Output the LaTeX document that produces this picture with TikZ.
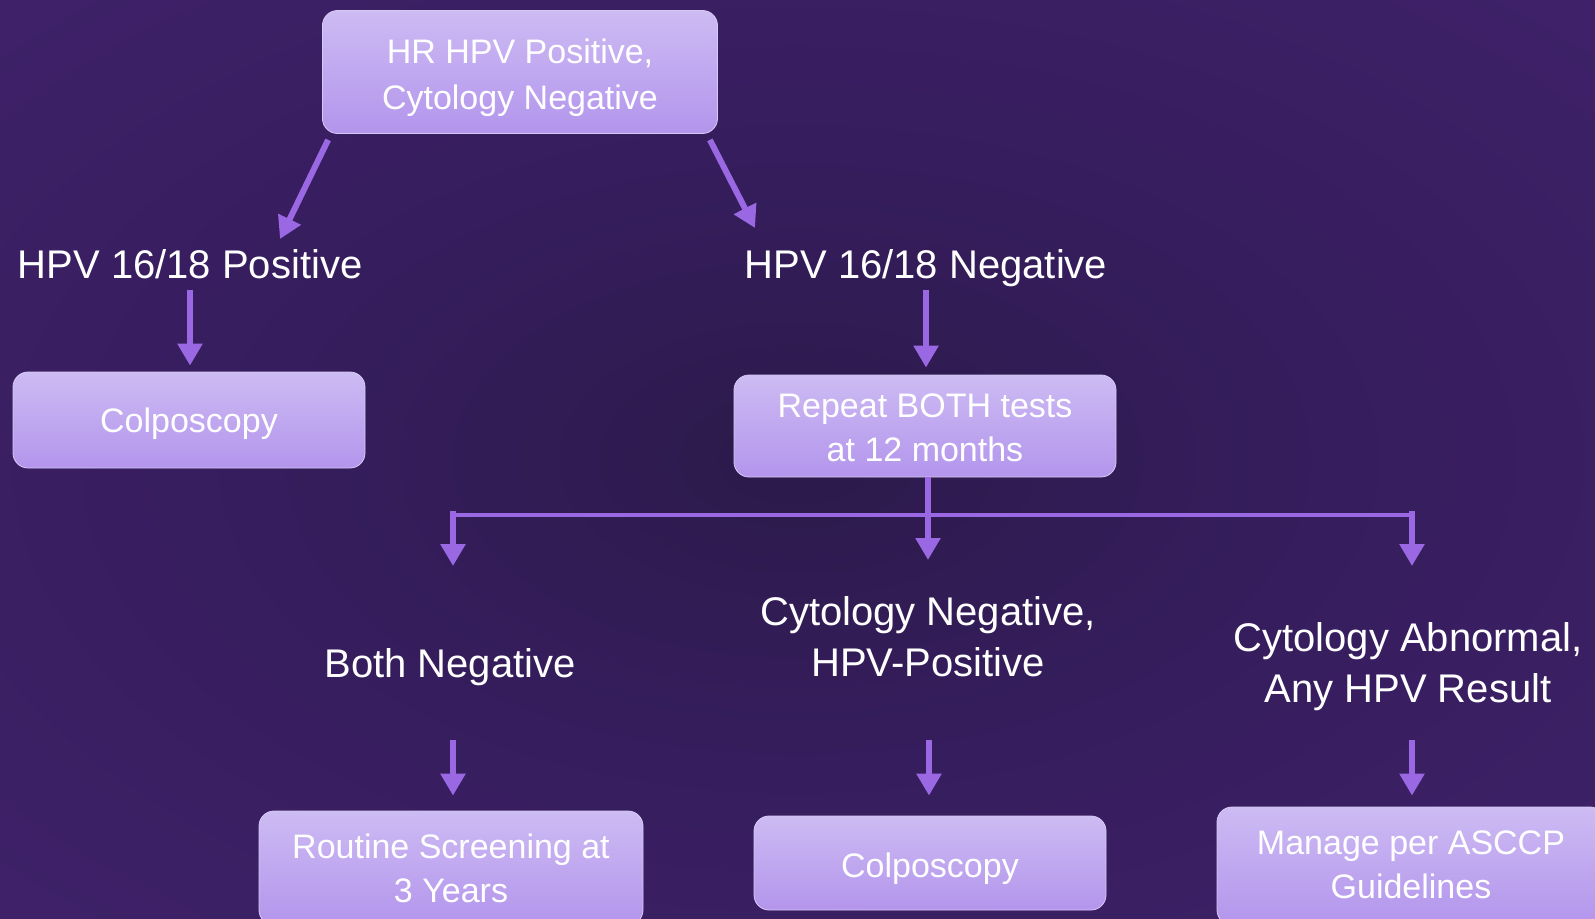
\documentclass[tikz,border=0pt]{standalone}
\usepackage{fontspec}
\setmainfont{Liberation Sans}
\usetikzlibrary{arrows.meta,calc}
\definecolor{bgin}{HTML}{2C1A4A}
\definecolor{bgmid}{HTML}{351D5C}
\definecolor{bgout}{HTML}{43236F}
\definecolor{boxtop}{HTML}{CDBBF3}
\definecolor{boxbot}{HTML}{B395EC}
\definecolor{arrcol}{HTML}{9A68E2}
\pgfdeclareradialshading{bgshade}{\pgfpoint{0bp}{0bp}}{color(0bp)=(bgin); color(15bp)=(bgmid); color(45bp)=(bgout); color(75bp)=(bgout)}
\tikzset{
  box/.style={rounded corners=15pt, top color=boxtop, bottom color=boxbot, draw=boxtop!80!white, line width=0.8pt, inner sep=0pt},
  boxtxt/.style={text=white, align=center, font=\fontsize{34}{44}\selectfont, inner sep=0pt},
  head/.style={text=white, align=center, font=\fontsize{40}{51}\selectfont, inner sep=0pt},
  arr/.style={draw=arrcol, line width=6pt, -{Triangle[width=24pt,length=22pt]}},
  thinln/.style={draw=arrcol, line width=4pt}
}
\begin{document}
\begin{tikzpicture}[x=1pt,y=-1pt]
\useasboundingbox (0,0) rectangle (1595,918);
\shade[shading=bgshade] (0,0) rectangle (1595,918);
% boxes
\node[box, minimum width=395pt, minimum height=123pt] (top) at (520,72) {};
\node[boxtxt, font=\fontsize{34}{46}\selectfont] (topT) at ([shift={(0,6)}]top.center) {HR HPV Positive,\\Cytology Negative};
\node[head] (pos16) at (190,264) {HPV 16/18 Positive};
\node[head] (neg16) at (926,268) {HPV 16/18 Negative};
\node[box, minimum width=352pt, minimum height=96pt] (colpoL) at (189,420) {};
\node[boxtxt] (colpoLT) at ([shift={(0,4)}]colpoL.center) {Colposcopy};
\node[box, minimum width=382pt, minimum height=102pt] (repeat) at (925,426) {};
\node[boxtxt] (repeatT) at ([shift={(0,2)}]repeat.center) {Repeat BOTH tests\\at 12 months};
\node[head] (bothneg) at (450,667) {Both Negative};
\node[head] (cytneg) at (928,637) {Cytology Negative,\\HPV-Positive};
\node[head] (cytab) at (1408,667) {Cytology Abnormal,\\Any HPV Result};
\node[box, minimum width=384pt, minimum height=114pt] (routine) at (451,868) {};
\node[boxtxt] (routineT) at (routine.center) {Routine Screening at\\3 Years};
\node[box, minimum width=352pt, minimum height=94pt] (colpoM) at (930,863) {};
\node[boxtxt] (colpoMT) at ([shift={(0,6)}]colpoM.center) {Colposcopy};
\node[box, minimum width=388pt, minimum height=118pt] (manage) at (1411,866) {};
\node[boxtxt] (manageT) at ([shift={(0,-1)}]manage.center) {Manage per ASCCP\\Guidelines};
% top arrows
\draw[arr] ([shift={(6,6)}]top.south west) -- ([shift={(90,-25)}]pos16.center);
\draw[arr] ([shift={(-8,6)}]top.south east) -- ([shift={(-171,-40)}]neg16.center);
\coordinate (pa) at ([shift={(0,26)}]pos16.center);
\draw[arr] (pa) -- ([shift={(0,-6)}]pa |- colpoL.north);
\coordinate (na) at ([shift={(0,22)}]neg16.center);
\draw[arr] (na) -- ([shift={(0,-7)}]na |- repeat.north);
% branch
\coordinate (bl) at (453,511);
\coordinate (br) at (1412,511);
\coordinate (hl) at (453,515);
\coordinate (hr) at (1412,515);
\coordinate (mid) at (928,560);
\draw[thinln] (hl) -- (hr);
\draw[arr] (mid |- repeat.south) -- (mid);
\draw[arr] (bl) -- ++(0,55);
\draw[arr] (br) -- ++(0,55);
% lower arrows
\draw[arr] ([shift={(2,-71)}]routine.north) -- ([shift={(2,-15)}]routine.north);
\draw[arr] ([shift={(-1,-76)}]colpoM.north) -- ([shift={(-1,-20)}]colpoM.north);
\draw[arr] ([shift={(1,-67)}]manage.north) -- ([shift={(1,-11)}]manage.north);
\end{tikzpicture}
\end{document}
